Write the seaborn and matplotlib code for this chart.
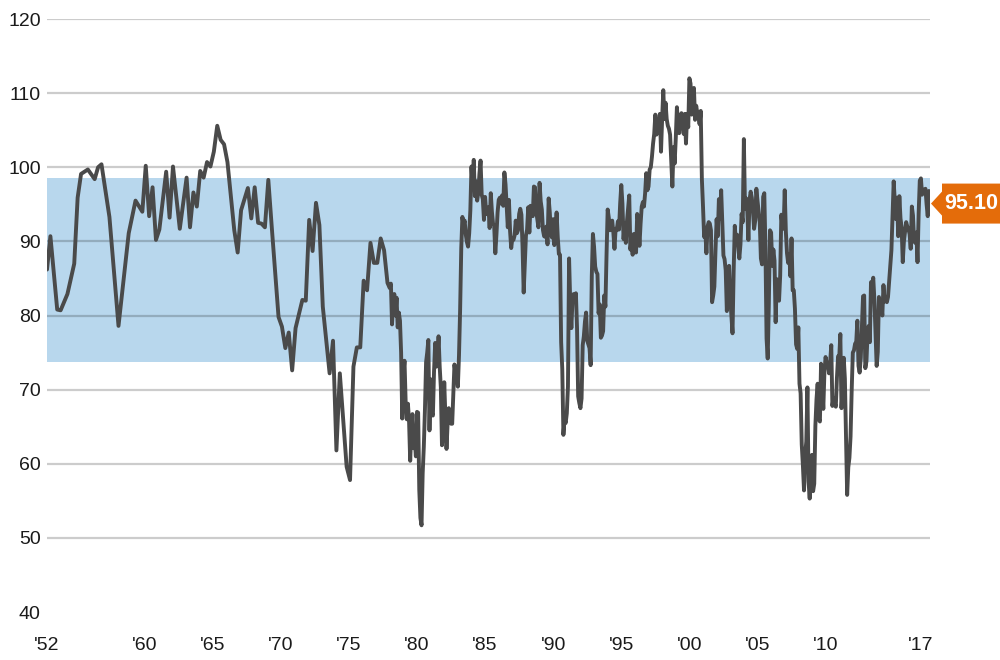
import numpy as np
import pandas as pd
import matplotlib
matplotlib.use("Agg")
import matplotlib.pyplot as plt
import seaborn as sns
from matplotlib.path import Path

# Consumer sentiment index, quarterly survey readings Nov 1952 - Nov 1977
early_dates = [
    "1952-11", "1953-02", "1953-08", "1953-11", "1954-05", "1954-11",
    "1955-02", "1955-05", "1955-11", "1956-05", "1956-08", "1956-11",
    "1957-06", "1958-02", "1958-11", "1959-05", "1959-11",
    "1960-02", "1960-05", "1960-08", "1960-11", "1961-02", "1961-08", "1961-11",
    "1962-02", "1962-08", "1963-02", "1963-05", "1963-08", "1963-11",
    "1964-02", "1964-05", "1964-08", "1964-11", "1965-02", "1965-05", "1965-08", "1965-11",
    "1966-02", "1966-08", "1966-11", "1967-02", "1967-08", "1967-11",
    "1968-02", "1968-05", "1968-08", "1968-11", "1969-02", "1969-05", "1969-11",
    "1970-02", "1970-05", "1970-08", "1970-11", "1971-02", "1971-08", "1971-11",
    "1972-02", "1972-05", "1972-08", "1972-11", "1973-02", "1973-08", "1973-11",
    "1974-02", "1974-05", "1974-08", "1974-11", "1975-02", "1975-05", "1975-08", "1975-11",
    "1976-02", "1976-05", "1976-08", "1976-11", "1977-02", "1977-05", "1977-08", "1977-11",
]
early_vals = [
    86.2, 90.7, 80.8, 80.7, 82.9, 87.0,
    95.9, 99.1, 99.7, 98.4, 100.0, 100.4,
    93.3, 78.6, 91.1, 95.5, 94.0,
    100.2, 93.4, 97.3, 90.2, 91.6, 99.4, 93.2,
    100.1, 91.7, 98.6, 91.9, 96.6, 94.7,
    99.5, 98.6, 100.7, 100.1, 102.1, 105.6, 103.7, 103.1,
    100.7, 91.5, 88.5, 94.2, 97.2, 93.1,
    97.3, 92.5, 92.4, 91.9, 98.3, 92.0, 79.8,
    78.5, 75.6, 77.7, 72.6, 78.3, 82.1, 82.0,
    92.9, 88.7, 95.2, 92.2, 81.2, 72.2, 76.6,
    61.8, 72.2, 65.9, 59.6, 57.8, 73.1, 75.7, 75.7,
    84.7, 83.4, 89.8, 87.1, 87.1, 90.4, 88.8, 84.4,
]

# monthly readings from Jan 1978 to Sep 2017
monthly_start = "1978-01"
monthly_vals = [
    83.7, 84.3, 78.8, 81.6, 82.9, 80.0, 82.4, 78.4, 80.4, 79.3, 75.0, 66.1,     # 1978
    72.1, 73.9, 68.4, 66.0, 68.1, 65.8, 60.4, 64.5, 66.7, 62.1, 63.3, 61.0,     # 1979
    67.0, 66.9, 56.5, 52.7, 51.7, 58.7, 62.3, 67.3, 73.7, 75.0, 76.7, 64.5,     # 1980
    71.4, 66.9, 66.5, 72.4, 76.3, 73.1, 74.1, 77.2, 73.1, 70.3, 62.5, 64.3,     # 1981
    71.0, 66.5, 62.0, 65.5, 67.5, 65.7, 65.4, 65.4, 69.3, 73.4, 72.1, 71.9,     # 1982
    70.4, 74.6, 80.8, 89.1, 93.3, 92.2, 92.8, 90.9, 89.9, 89.3, 91.1, 94.2,     # 1983
    100.1, 97.4, 101.0, 96.1, 98.1, 95.5, 96.6, 99.1, 100.9, 96.3, 95.7, 92.9,  # 1984
    96.0, 93.7, 93.7, 94.6, 91.8, 96.5, 94.0, 92.4, 92.1, 88.4, 90.9, 93.9,     # 1985
    95.6, 95.9, 95.1, 96.2, 94.8, 99.3, 97.7, 94.9, 91.9, 95.6, 91.4, 89.1,     # 1986
    90.4, 90.2, 90.8, 92.8, 91.1, 91.5, 93.7, 94.4, 93.6, 89.3, 83.1, 86.8,     # 1987
    90.8, 91.6, 94.6, 91.2, 94.8, 94.7, 93.4, 97.4, 97.3, 94.1, 93.0, 91.9,     # 1988
    97.9, 95.4, 94.3, 91.5, 90.7, 90.6, 92.0, 89.6, 95.8, 93.9, 90.9, 90.5,     # 1989
    93.0, 89.5, 91.3, 93.9, 90.6, 88.3, 88.2, 76.4, 72.8, 63.9, 66.0, 65.5,     # 1990
    66.8, 70.4, 87.7, 81.8, 78.3, 82.1, 82.9, 82.0, 83.0, 78.3, 69.1, 68.2,     # 1991
    67.5, 68.8, 76.0, 77.2, 79.2, 80.4, 76.6, 76.1, 75.6, 73.3, 85.3, 91.0,     # 1992
    89.3, 86.6, 85.9, 85.6, 80.3, 81.5, 77.0, 77.3, 77.9, 82.7, 81.2, 88.2,     # 1993
    94.3, 93.2, 91.5, 92.6, 92.8, 91.2, 89.0, 91.7, 91.5, 92.7, 91.6, 95.1,     # 1994
    97.6, 95.1, 90.3, 92.5, 89.8, 92.7, 94.4, 96.2, 88.9, 90.2, 88.2, 91.0,     # 1995
    89.3, 88.5, 93.7, 92.7, 89.4, 92.4, 94.7, 95.3, 94.7, 96.5, 99.2, 96.9,     # 1996
    97.4, 99.7, 100.0, 101.4, 103.2, 104.5, 107.1, 104.4, 106.0, 105.6, 107.2, 102.1,  # 1997
    106.6, 110.4, 106.5, 108.7, 106.5, 105.6, 105.2, 104.4, 100.9, 97.4, 102.7, 100.5,  # 1998
    103.9, 108.1, 105.7, 104.6, 106.8, 107.3, 106.0, 104.5, 107.2, 103.2, 107.2, 105.4,  # 1999
    112.0, 111.3, 107.1, 109.2, 110.7, 106.4, 108.3, 107.3, 106.8, 105.8, 107.6, 98.4,  # 2000
    94.7, 90.6, 91.5, 88.4, 92.0, 92.6, 92.4, 91.5, 81.8, 82.7, 83.9, 88.8,     # 2001
    93.0, 90.7, 95.7, 93.0, 96.9, 92.4, 88.1, 87.6, 86.1, 80.6, 84.2, 86.7,     # 2002
    82.4, 79.9, 77.6, 86.0, 92.1, 89.7, 90.9, 89.3, 87.7, 89.6, 93.7, 92.6,     # 2003
    103.8, 94.4, 95.8, 94.2, 90.2, 95.6, 96.7, 95.9, 94.2, 91.7, 92.8, 97.1,    # 2004
    95.5, 94.1, 92.6, 87.7, 86.9, 96.0, 96.5, 89.1, 76.9, 74.2, 81.6, 91.5,     # 2005
    91.2, 86.7, 88.9, 87.4, 79.1, 84.9, 84.7, 82.0, 85.4, 93.6, 92.1, 91.7,     # 2006
    96.9, 91.3, 88.4, 87.1, 88.3, 85.3, 90.4, 83.4, 83.4, 80.9, 76.1, 75.5,     # 2007
    78.4, 70.8, 69.5, 62.6, 59.8, 56.4, 61.2, 63.0, 70.3, 57.6, 55.3, 60.1,     # 2008
    61.2, 56.3, 57.3, 65.1, 68.7, 70.8, 66.0, 65.7, 73.5, 70.6, 67.4, 72.5,     # 2009
    74.4, 73.6, 73.6, 72.2, 73.6, 76.0, 67.8, 68.9, 68.2, 67.7, 71.6, 74.5,     # 2010
    74.2, 77.5, 67.5, 69.8, 74.3, 71.5, 63.7, 55.8, 59.5, 60.8, 63.7, 69.9,     # 2011
    75.0, 75.3, 76.2, 76.4, 79.3, 73.2, 72.3, 74.3, 78.3, 82.6, 82.7, 72.9,     # 2012
    73.8, 77.6, 78.6, 76.4, 84.5, 84.1, 85.1, 82.1, 77.5, 73.2, 75.1, 82.5,     # 2013
    81.2, 81.6, 80.0, 84.1, 81.9, 82.5, 81.8, 82.5, 84.6, 86.9, 88.8, 93.6,     # 2014
    98.1, 95.4, 93.0, 95.9, 90.7, 96.1, 93.1, 91.9, 87.2, 90.0, 91.3, 92.6,     # 2015
    92.0, 91.7, 91.0, 89.0, 94.7, 93.5, 90.0, 89.8, 91.2, 87.2, 93.8, 98.2,     # 2016
    98.5, 96.3, 96.9, 97.0, 97.1, 95.0, 93.4, 96.8, 95.1,                       # 2017
]

# shaded range (long-run average +/- one std dev)
band_low = 73.7
band_high = 98.5

y_ticks = [40, 50, 60, 70, 80, 90, 100, 110, 120]
x_tick_years = [1960, 1965, 1970, 1975, 1980, 1985, 1990, 1995, 2000, 2005, 2010, 2017]
x_tick_labels = ["'52", "'60", "'65", "'70", "'75", "'80", "'85", "'90", "'95", "'00", "'05", "'10", "'17"]

# build the series
early = pd.to_datetime(pd.Series(early_dates))
monthly = pd.Series(pd.date_range(monthly_start, periods=len(monthly_vals), freq="MS"))
dates = pd.concat([early, monthly], ignore_index=True)
df = pd.DataFrame({
    "year": dates.dt.year + (dates.dt.month - 1) / 12.0,
    "index": early_vals + monthly_vals,
})

sns.set_style("white")
plt.rcParams["font.family"] = ["Liberation Sans", "DejaVu Sans"]

line_color = "#4a4a4a"
band_color = "#b8d7ed"
orange = "#e46c0a"


# flag shape for the latest value: box with a small pointer on the left
def tag_box(x0, y0, width, height, mutation_size):
    px, py, tip, half = 2, 9.5, 11, 12
    x0, y0 = x0 - px, y0 - py
    x1, y1 = x0 + width + 2 * px, y0 + height + 2 * py
    yc = (y0 + y1) / 2
    return Path([(x0, y0), (x1, y0), (x1, y1), (x0, y1), (x0, yc + half),
                 (x0 - tip, yc), (x0, yc - half), (x0, y0)], closed=True)


fig = plt.figure(figsize=(10, 6.6), dpi=100)
ax = fig.add_axes([0.047, 0.0727, 0.883, 0.8985])

ax.axhspan(band_low, band_high, color=band_color, lw=0, zorder=1)
sns.lineplot(data=df, x="year", y="index", color=line_color, lw=2.8, ax=ax, zorder=2)

x0, x1 = df["year"].iloc[0], df["year"].iloc[-1]
ax.set_xlim(x0, x1)
ax.set_ylim(40, 120)
ax.set_yticks(y_ticks)
ax.set_xticks([x0] + x_tick_years)
ax.set_xticklabels(x_tick_labels)
ax.set_xlabel("")
ax.set_ylabel("")

ax.set_axisbelow("line")
ax.yaxis.grid(True, color="black", alpha=0.2, lw=1.6)
ax.xaxis.grid(False)
ax.get_ygridlines()[0].set_visible(False)
for s in ax.spines.values():
    s.set_visible(False)
ax.tick_params(axis="y", length=0, pad=4.5, labelsize=14, labelcolor="#1a1a1a")
ax.tick_params(axis="x", length=0, pad=18, labelsize=14, labelcolor="#1a1a1a")

# latest-value tag on the right
last_val = df["index"].iloc[-1]
ax.annotate(f"{last_val:.2f}", xy=(x1, last_val), xytext=(14, 0), textcoords="offset pixels",
            ha="left", va="center", fontsize=15.5, fontweight="bold", color="white",
            bbox=dict(boxstyle=tag_box, fc=orange, ec="none"),
            annotation_clip=False, zorder=6)

fig.savefig("out.png", dpi=100)
